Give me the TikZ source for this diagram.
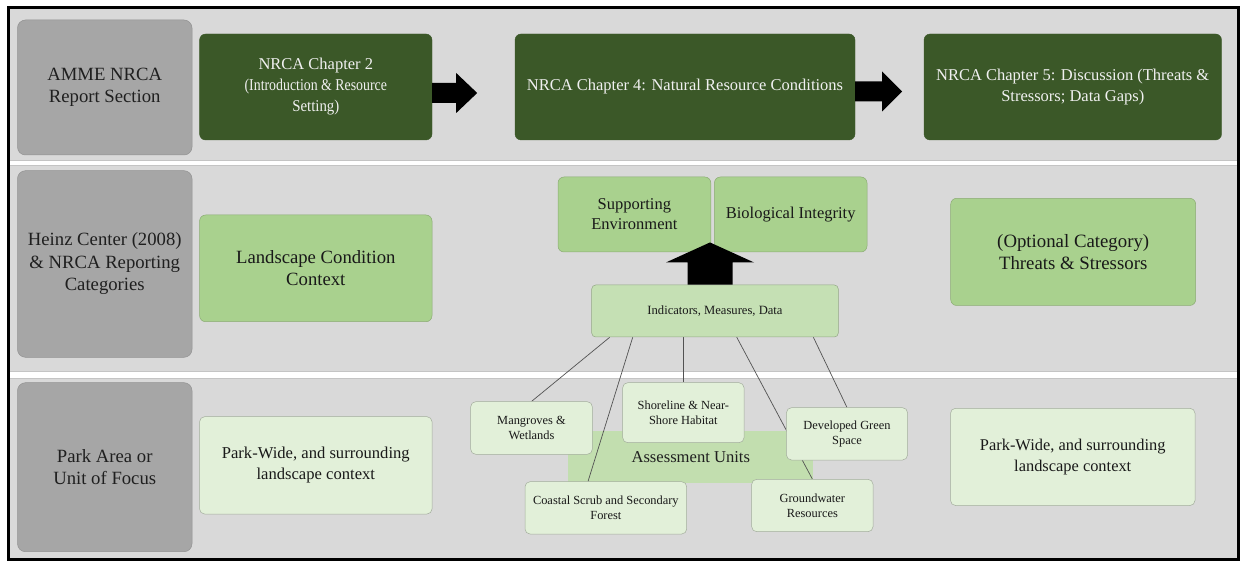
\documentclass[tikz,border=0pt]{standalone}
\usepackage{fontspec}
\usepackage{graphicx}
\setmainfont{Liberation Serif}
\usetikzlibrary{calc}
\definecolor{bandgray}{HTML}{D9D9D9}
\definecolor{bandline}{HTML}{C4C4C4}
\definecolor{labgray}{HTML}{A6A6A6}
\definecolor{dkgreen}{HTML}{3B5828}
\definecolor{midgreen}{HTML}{A9D18E}
\definecolor{ltgreen}{HTML}{E2F0D9}
\definecolor{indgreen}{HTML}{C5E0B4}
\definecolor{augreen}{HTML}{C2DEAF}
\pgfdeclarelayer{back}
\pgfdeclarelayer{mid}
\pgfsetlayers{back,mid,main}
\tikzset{
  band/.style={fill=bandgray, draw=bandline, line width=0.8pt},
  lab/.style={rounded corners=8pt, fill=labgray, draw=labgray!88!black, line width=0.5pt, inner sep=0pt, align=center, text=black!88, font=\fontsize{18.7}{22.5}\selectfont},
  chap/.style={rounded corners=6pt, fill=dkgreen, draw=dkgreen, inner sep=0pt, align=center, text=white!94!black, font=\fontsize{16.5}{21}\selectfont},
  cat/.style={rounded corners=6pt, fill=midgreen, draw=midgreen!82!black, line width=0.5pt, inner sep=0pt, align=center, text=black!90},
  unit/.style={rounded corners=5pt, fill=ltgreen, draw=ltgreen!72!black, line width=0.5pt, inner sep=0pt, align=center, text=black!90, font=\fontsize{12.4}{15}\selectfont},
  link/.style={draw=black!68, line width=0.7pt},
  blockarrow/.style={fill=black}
}
\begin{document}
\begin{tikzpicture}[x=1pt, y=-1pt]
\useasboundingbox (0,0) rectangle (1243,561);

% background and bands
\begin{pgfonlayer}{back}
\fill[white] (0,0) rectangle (1243,561);
\path[band] (9,8.5) rectangle (1237.5,160.5);
\path[band] (9,165) rectangle (1237.5,371.5);
\path[band] (9,378) rectangle (1237.5,558.5);
\end{pgfonlayer}

% row labels
\node[lab, minimum width=174.5pt, minimum height=135pt] (lab1) at (104.75,87.5) {AMME NRCA\\Report Section};
\node[lab, minimum width=174.5pt, minimum height=186.6pt] (lab2) at (104.75,264) {Heinz Center (2008)\\\& NRCA Reporting\\Categories};
\node[lab, minimum width=174.5pt, minimum height=169pt] (lab3) at (104.75,467.2) {Park Area or\\Unit of Focus};

% row 1
\node[chap, minimum width=232.4pt, minimum height=106pt] (ch2) at (315.8,87) {NRCA Chapter 2\\\scalebox{0.84}[1]{(Introduction \& Resource}\\\scalebox{0.9}[1]{Setting)}};
\node[chap, minimum width=340pt, minimum height=106pt] (ch4) at (685,87) {NRCA Chapter 4: Natural Resource Conditions};
\node[chap, minimum width=297.5pt, minimum height=106pt] (ch5) at (1072.75,87) {NRCA Chapter 5: Discussion (Threats \&\\Stressors; Data Gaps)};

\fill[blockarrow] ($(ch2.east)+(0,6)$) ++(0,-10) -- ++(24,0) -- ++(0,-10) -- ++(21,20) -- ++(-21,20) -- ++(0,-10) -- ++(-24,0) -- cycle;
\fill[blockarrow] ($(ch4.east)+(0,4.5)$) ++(0,-10) -- ++(27,0) -- ++(0,-10) -- ++(20,20) -- ++(-20,20) -- ++(0,-10) -- ++(-27,0) -- cycle;

% row 2
\node[cat, minimum width=232.4pt, minimum height=106.7pt, font=\fontsize{18.7}{22}\selectfont] (land) at (315.8,268.35) {Landscape Condition\\Context};
\node[cat, minimum width=152.8pt, minimum height=75pt, font=\fontsize{16.5}{20}\selectfont] (supp) at (634.4,214.5) {Supporting\\Environment};
\node[cat, minimum width=152.6pt, minimum height=75pt, font=\fontsize{16.5}{20}\selectfont] (bio) at (790.7,214.5) {Biological Integrity};
\node[cat, minimum width=245pt, minimum height=107.2pt, font=\fontsize{18.8}{22}\selectfont] (thr) at (1073.2,251.9) {(Optional Category)\\Threats \& Stressors};
\node[cat, fill=indgreen, draw=indgreen!75!black, rounded corners=4pt, minimum width=246.6pt, minimum height=52pt, font=\fontsize{12.6}{15}\selectfont] (ind) at (715,311) {Indicators, Measures, Data};

\coordinate (ua) at ($(ind.north)+(-5,0)$);
\fill[blockarrow] (ua) ++(-22.5,0) -- ++(0,-22.3) -- ++(-21.5,0) -- ++(44,-20) -- ++(44,20) -- ++(-21.5,0) -- ++(0,22.3) -- cycle;

% row 3
\node[unit, minimum width=232.4pt, minimum height=97.3pt, font=\fontsize{16.6}{21}\selectfont] (pwl) at (315.8,465.35) {Park-Wide, and surrounding\\landscape context};
\node[unit, minimum width=244.5pt, minimum height=97.2pt, font=\fontsize{16.4}{21}\selectfont] (pwr) at (1072.75,456.9) {Park-Wide, and surrounding\\landscape context};

\begin{pgfonlayer}{back}
\node[fill=augreen, inner sep=0pt, minimum width=245pt, minimum height=52.3pt, font=\fontsize{16.6}{20}\selectfont, text=black!88] (au) at (690.8,457.15) {\raisebox{-2pt}{Assessment Units}};
\end{pgfonlayer}

\node[unit, minimum width=121.6pt, minimum height=52.6pt] (mang) at (531.5,428) {Mangroves \&\\Wetlands};
\node[unit, minimum width=121.3pt, minimum height=60pt] (shore) at (683.35,412.7) {Shoreline \& Near-\\Shore Habitat};
\node[unit, minimum width=121.1pt, minimum height=52.3pt] (dev) at (847,433.85) {Developed Green\\Space};
\node[unit, minimum width=161.7pt, minimum height=52.3pt] (coast) at (605.85,507.85) {Coastal Scrub and Secondary\\Forest};
\node[unit, minimum width=121.3pt, minimum height=52.4pt] (gw) at (812.35,505.5) {Groundwater\\Resources};

\begin{pgfonlayer}{mid}
\draw[link] ($(ind.south west)!0.074!(ind.south east)$) -- (mang.north);
\draw[link] ($(ind.south west)!0.167!(ind.south east)$) -- ($(coast.north west)!0.39!(coast.north east)$);
\draw[link] (shore.north |- ind.south) -- (shore.north);
\draw[link] ($(ind.south west)!0.588!(ind.south east)$) -- (gw.north);
\draw[link] ($(ind.south west)!0.898!(ind.south east)$) -- (dev.north);
\end{pgfonlayer}

% outer frame
\draw[black, line width=2.5pt] (8.5,7.5) rectangle (1238.5,559.5);
\end{tikzpicture}
\end{document}
